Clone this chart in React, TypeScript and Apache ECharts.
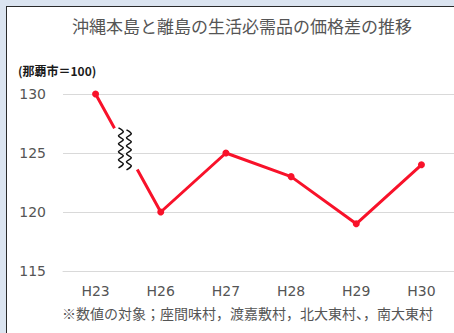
import React, { useEffect, useRef } from "react";
import * as echarts from "echarts";

const categories = ["H23", "H26", "H27", "H28", "H29", "H30"];
const values = [130, 120, 125, 123, 119, 124];
const yTicks = { min: 115, max: 130, interval: 5 };
const titleText = "沖縄本島と離島の生活必需品の価格差の推移";
const unitText = "(那覇市＝100)";
const noteText = "※数値の対象；座間味村，渡嘉敷村，北大東村、，南大東村";

const FONT = "'Noto Sans CJK JP', 'Noto Sans', sans-serif";
const LFONT = "'DejaVu Sans', sans-serif";
const RED = "#f8122a";

export default function App() {
  const ref = useRef<HTMLDivElement>(null);
  useEffect(() => {
    document.body.style.margin = "0";
    const chart = echarts.init(ref.current!, null, { renderer: "svg" });
    chart.setOption({
      animation: false,
      backgroundColor: "transparent",
      title: {
        text: titleText,
        left: 237,
        top: 12,
        textAlign: "center",
        textStyle: { fontFamily: FONT, fontSize: 17, fontWeight: "normal", color: "#555555" },
      },
      grid: { left: 63, right: 0, top: 94, bottom: 62 },
      xAxis: {
        type: "category",
        data: categories,
        axisLine: { show: true, lineStyle: { color: "#d9d9d9", width: 1 } },
        axisTick: { show: false },
        axisLabel: { margin: 13, fontFamily: LFONT, fontSize: 14, color: "#555555" },
      },
      yAxis: {
        type: "value",
        min: yTicks.min,
        max: yTicks.max,
        interval: yTicks.interval,
        axisLine: { show: false },
        axisTick: { show: false },
        splitLine: { lineStyle: { color: "#d9d9d9", width: 1 } },
        axisLabel: { margin: 17, fontFamily: LFONT, fontSize: 14, color: "#555555" },
      },
      series: [
        {
          type: "line",
          data: values,
          symbol: "circle",
          symbolSize: 7,
          lineStyle: { color: RED, width: 3 },
          itemStyle: { color: RED },
          z: 3,
        },
      ],
    });

    const p0 = chart.convertToPixel({ gridIndex: 0 }, [0, values[0]]) as number[];
    const p1 = chart.convertToPixel({ gridIndex: 0 }, [1, values[1]]) as number[];
    const lerp = (t: number) => [p0[0] + (p1[0] - p0[0]) * t, p0[1] + (p1[1] - p0[1]) * t];
    const g1 = lerp(0.29);
    const g2 = lerp(0.64);
    const mid = lerp(0.465);
    const squiggle = (cx: number, cy: number) => {
      const h = 40;
      const n = 10;
      const pts: number[][] = [];
      for (let i = 0; i <= n; i++) {
        pts.push([cx + (i % 2 ? 2.4 : -2.4), cy - h / 2 + (i * h) / n]);
      }
      return {
        type: "polyline",
        shape: { points: pts, smooth: 0.4 },
        style: { stroke: "#111", lineWidth: 1.6, fill: null },
        z: 101,
      };
    };

    chart.setOption({
      graphic: [
        {
          type: "line",
          shape: { x1: g1[0], y1: g1[1], x2: g2[0], y2: g2[1] },
          style: { stroke: "#ffffff", lineWidth: 6 },
          z: 100,
        },
        squiggle(mid[0] - 5, mid[1] - 1),
        squiggle(mid[0] + 3, mid[1] + 1),
        {
          type: "text",
          left: 18,
          top: 64,
          style: { text: unitText, font: `bold 12px ${FONT}`, fill: "#1a1a1a" },
        },
        {
          type: "text",
          left: 62,
          top: 306,
          style: { text: noteText, font: `14px ${FONT}`, fill: "#555555" },
        },
      ],
    });
    return () => chart.dispose();
  }, []);

  return (
    <div style={{ position: "relative", width: 454, height: 333, overflow: "hidden", background: "#dbe4f0" }}>
      <div
        style={{
          position: "absolute",
          left: 6,
          top: 6,
          width: 470,
          height: 350,
          background: "#ffffff",
          border: "1.5px solid #2a2a2a",
        }}
      />
      <div ref={ref} style={{ position: "absolute", left: 0, top: 0, width: 454, height: 333 }} />
    </div>
  );
}
